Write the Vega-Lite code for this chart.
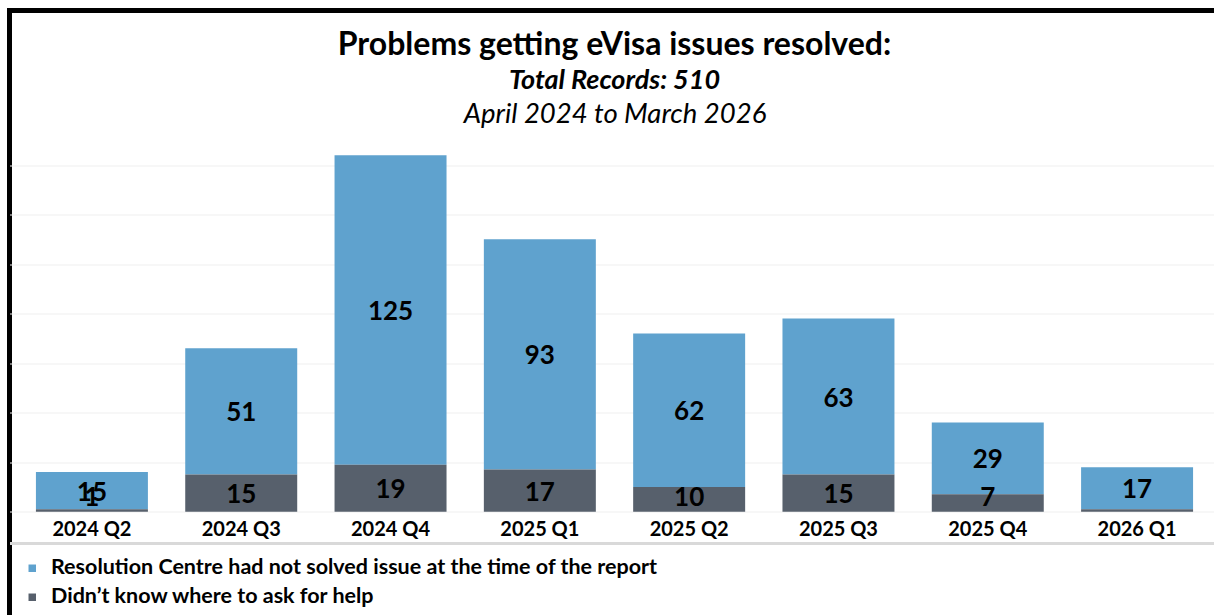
{
  "$schema": "https://vega.github.io/schema/vega-lite/v6.json",
  "width": 1210,
  "height": 610,
  "autosize": {"type": "none"},
  "padding": {"left": 9.5, "top": 10.5, "right": -5.5, "bottom": -5.5},
  "background": "white",
  "title": {
    "text": "Problems getting eVisa issues resolved:",
    "subtitle": "Total Records: 510",
    "anchor": "middle",
    "frame": "group",
    "offset": -84,
    "font": "Lato",
    "fontSize": 32,
    "fontWeight": "bold",
    "color": "#000000",
    "subtitleFont": "Lato",
    "subtitleFontSize": 27,
    "subtitleFontStyle": "italic",
    "subtitleFontWeight": "bold",
    "subtitleColor": "#000000",
    "subtitlePadding": 6
  },
  "data": {
    "values": [
      {"quarter": "2024 Q2", "category": "Resolution Centre had not solved issue at the time of the report", "value": 15},
      {"quarter": "2024 Q2", "category": "Didn’t know where to ask for help", "value": 1},
      {"quarter": "2024 Q3", "category": "Resolution Centre had not solved issue at the time of the report", "value": 51},
      {"quarter": "2024 Q3", "category": "Didn’t know where to ask for help", "value": 15},
      {"quarter": "2024 Q4", "category": "Resolution Centre had not solved issue at the time of the report", "value": 125},
      {"quarter": "2024 Q4", "category": "Didn’t know where to ask for help", "value": 19},
      {"quarter": "2025 Q1", "category": "Resolution Centre had not solved issue at the time of the report", "value": 93},
      {"quarter": "2025 Q1", "category": "Didn’t know where to ask for help", "value": 17},
      {"quarter": "2025 Q2", "category": "Resolution Centre had not solved issue at the time of the report", "value": 62},
      {"quarter": "2025 Q2", "category": "Didn’t know where to ask for help", "value": 10},
      {"quarter": "2025 Q3", "category": "Resolution Centre had not solved issue at the time of the report", "value": 63},
      {"quarter": "2025 Q3", "category": "Didn’t know where to ask for help", "value": 15},
      {"quarter": "2025 Q4", "category": "Resolution Centre had not solved issue at the time of the report", "value": 29},
      {"quarter": "2025 Q4", "category": "Didn’t know where to ask for help", "value": 7},
      {"quarter": "2026 Q1", "category": "Resolution Centre had not solved issue at the time of the report", "value": 17},
      {"quarter": "2026 Q1", "category": "Didn’t know where to ask for help", "value": 1}
    ]
  },
  "layer": [
    {
      "mark": {"type": "bar"},
      "encoding": {
        "x": {
          "field": "quarter",
          "type": "nominal",
          "sort": ["2024 Q2", "2024 Q3", "2024 Q4", "2025 Q1", "2025 Q2", "2025 Q3", "2025 Q4", "2026 Q1"],
          "scale": {"paddingInner": 0.25, "paddingOuter": 0.177},
          "axis": {
            "orient": "bottom",
            "title": null,
            "offset": -77.5,
            "domain": true,
            "domainColor": "#d9d9d9",
            "domainWidth": 3,
            "ticks": false,
            "tickSize": 0,
            "labelPadding": -14,
            "labelBaseline": "middle",
            "labelFont": "Lato",
            "labelFontSize": 20,
            "labelFontWeight": "bold",
            "labelColor": "#000000",
            "labelAngle": 0,
            "grid": false
          }
        },
        "y": {
          "field": "value",
          "type": "quantitative",
          "stack": "zero",
          "scale": {"domain": [-43.94, 202.42], "nice": false, "zero": false},
          "axis": {"title": null, "labels": false, "ticks": false, "domain": false, "grid": true, "gridColor": "#efefef", "values": [0, 20, 40, 60, 80, 100, 120, 140]}
        },
        "color": {
          "field": "category",
          "type": "nominal",
          "scale": {
            "domain": ["Resolution Centre had not solved issue at the time of the report", "Didn’t know where to ask for help"],
            "range": ["#5fa2ce", "#57606c"]
          },
          "legend": {
            "orient": "bottom-left",
            "offset": 12,
            "title": null,
            "padding": 0,
            "direction": "vertical",
            "symbolType": "square",
            "symbolSize": 56,
            "symbolStrokeWidth": 0,
            "labelFont": "Lato",
            "labelFontSize": 21.5,
            "labelFontWeight": "bold",
            "labelColor": "#000000",
            "labelLimit": 900,
            "labelOffset": 8,
            "rowPadding": 6
          }
        },
        "order": {"field": "category", "sort": "ascending"}
      }
    },
    {
      "transform": [
        {"stack": "value", "groupby": ["quarter"], "sort": [{"field": "category", "order": "ascending"}], "as": ["y0", "y1"]},
        {"calculate": "max((datum.y0 + datum.y1) / 2, 6.3)", "as": "mid"},
        {"filter": "!(datum.quarter == '2026 Q1' && datum.value == 1)"}
      ],
      "mark": {"type": "text", "font": "Lato", "fontSize": 26, "fontWeight": "bold", "color": "#000000", "baseline": "middle", "align": "center", "dy": 2},
      "encoding": {
        "x": {
          "field": "quarter",
          "type": "nominal",
          "sort": ["2024 Q2", "2024 Q3", "2024 Q4", "2025 Q1", "2025 Q2", "2025 Q3", "2025 Q4", "2026 Q1"],
          "axis": {
            "orient": "top",
            "title": "April 2024 to March 2026",
            "offset": -111.5,
            "labels": false,
            "ticks": false,
            "domain": false,
            "grid": false,
            "titleFont": "Lato",
            "titleFontSize": 27.5,
            "titleFontStyle": "italic",
            "titleFontWeight": "normal",
            "titleColor": "#000000",
            "titleY": 0,
            "titleBaseline": "alphabetic",
            "titlePadding": 0
          }
        },
        "y": {
          "field": "mid",
          "type": "quantitative",
          "scale": {"domain": [-43.94, 202.42], "nice": false, "zero": false},
          "axis": {"title": null, "labels": false, "ticks": false, "domain": false, "grid": true, "gridColor": "#efefef", "values": [0, 20, 40, 60, 80, 100, 120, 140]}
        },
        "text": {"field": "value", "type": "quantitative"}
      }
    }
  ],
  "resolve": {"axis": {"x": "independent"}},
  "config": {"view": {"stroke": "#000000", "strokeWidth": 5}}
}
